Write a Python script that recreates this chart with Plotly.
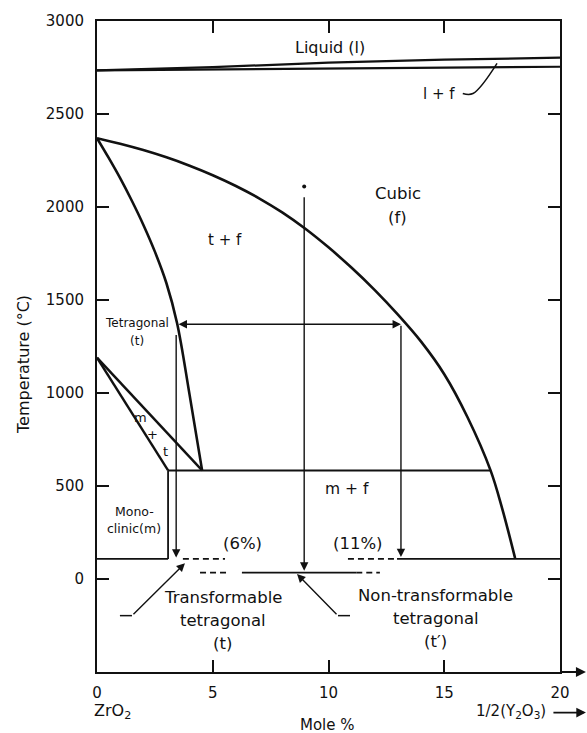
import plotly.graph_objects as go

FONT = "DejaVu Sans"
INK = "#111111"

# ---------------- data (composition in mol %, temperature in deg C) ----------------
liq_x = [0, 5, 10, 15, 20]
liquidus_T = [2735, 2752, 2776, 2792, 2803]
solidus_T = [2735, 2740, 2745, 2750, 2754]

t_bound_x = [0, 0.5, 1.0, 1.5, 2.0, 2.5, 3.0, 3.46, 4.0, 4.54]
t_bound_T = [2370, 2265, 2155, 2035, 1905, 1760, 1590, 1375, 990, 584]

f_bound_x = [0, 1, 2, 3, 4, 5, 6, 7, 8, 9, 10, 11, 12, 13, 14, 15, 16, 17.0, 17.5, 18.06]
f_bound_T = [2370, 2340, 2306, 2267, 2222, 2171, 2113, 2047, 1971, 1883, 1783, 1673, 1553,
             1421, 1276, 1101, 871, 584, 380, 112]

mt_upper_x = [0, 4.54]
mt_upper_T = [1190, 584]
mt_lower_x = [0, 3.07]
mt_lower_T = [1190, 584]

eutectoid_x = [3.07, 17.0]
eutectoid_T = [584, 584]

mono_x = [3.07, 3.07]
mono_T = [584, 108]

base_T = 108
base_solid_segments = [[0, 3.07], [12.96, 20]]
base_dashed_segments = [[3.71, 5.53], [10.84, 12.96]]

low_T = 34
low_solid_segments = [[6.26, 11.2]]
low_dashed_segments = [[4.45, 5.66], [11.2, 12.22]]

marker_dot_x = [8.95]
marker_dot_T = [2110]

# arrows: (tail x, tail T, tip x, tip T)
vertical_arrows = [(3.42, 1320, 3.42, 115), (8.95, 2060, 8.95, 45), (13.13, 1370, 13.13, 118)]
double_arrow = (3.46, 1370, 13.13, 1370)

# leader lines
lf_leader_x = [15.8, 16.24, 17.28]
lf_leader_T = [2610, 2610, 2772]
trans_tail_x = [0.99, 1.51]
trans_tail_T = [-197, -197]
trans_tip = (3.8, 85)
nontrans_tail_x = [10.93, 10.41]
nontrans_tail_T = [-197, -197]
nontrans_tip = (8.64, 27)

# text labels: (text, x, T, size)
labels = [
    ("Liquid (l)", 10.06, 2856, 16),
    ("l + f", 14.77, 2610, 15),
    ("t + f", 5.53, 1822, 15),
    ("Cubic", 13.0, 2075, 16.5),
    ("(f)", 13.0, 1945, 16.5),
    ("Tetragonal", 1.73, 1375, 12),
    ("(t)", 1.73, 1279, 12),
    ("m", 1.9, 868, 13),
    ("+", 2.38, 778, 13),
    ("t", 2.98, 687, 13),
    ("m + f", 10.8, 485, 15.5),
    ("Mono-", 1.6, 362, 12.5),
    ("clinic(m)", 1.6, 272, 12.5),
    ("(6%)", 6.3, 192, 16.5),
    ("(11%)", 11.27, 192, 16.5),
    ("Transformable", 5.44, -101, 16.5),
    ("tetragonal", 5.44, -224, 16.5),
    ("(t)", 5.44, -346, 16.5),
    ("Non-transformable", 14.64, -91, 16.5),
    ("tetragonal", 14.64, -213, 16.5),
    ("(t\u2032)", 14.64, -336, 16.5),
]

x_ticks = [0, 5, 10, 15, 20]
y_ticks = [0, 500, 1000, 1500, 2000, 2500, 3000]

# ---------------- figure ----------------
fig = go.Figure()


def add_line(xs, ys, width=2.4, dash="solid", shape="linear"):
    fig.add_trace(go.Scatter(x=xs, y=ys, mode="lines",
                             line=dict(color=INK, width=width, dash=dash, shape=shape, smoothing=1.0),
                             hoverinfo="skip", showlegend=False))


add_line(liq_x, liquidus_T, 2.2, shape="spline")
add_line(liq_x, solidus_T, 2.2)
add_line(t_bound_x, t_bound_T, 2.6, shape="spline")
add_line(f_bound_x, f_bound_T, 2.6, shape="spline")
add_line(mt_upper_x, mt_upper_T, 2.4)
add_line(mt_lower_x, mt_lower_T, 2.4)
add_line(eutectoid_x, eutectoid_T, 2.0)
add_line(mono_x, mono_T, 1.8)
for seg in base_solid_segments:
    add_line(seg, [base_T, base_T], 1.8)
for seg in base_dashed_segments:
    add_line(seg, [base_T, base_T], 1.8, dash="6px,4px")
for seg in low_solid_segments:
    add_line(seg, [low_T, low_T], 1.8)
for seg in low_dashed_segments:
    add_line(seg, [low_T, low_T], 1.8, dash="6px,4px")
add_line(lf_leader_x, lf_leader_T, 1.5, shape="spline")
add_line(trans_tail_x, trans_tail_T, 1.5)
add_line(nontrans_tail_x, nontrans_tail_T, 1.5)

fig.add_trace(go.Scatter(x=marker_dot_x, y=marker_dot_T, mode="markers",
                         marker=dict(color=INK, size=4), hoverinfo="skip", showlegend=False))

annotations = []


def arrow(x0, y0, x1, y1, side="end"):
    annotations.append(dict(x=x1, y=y1, ax=x0, ay=y0, xref="x", yref="y", axref="x", ayref="y",
                            text="", showarrow=True, arrowhead=2, arrowsize=1.2, arrowwidth=1.4,
                            arrowcolor=INK, arrowside=side, standoff=0, startstandoff=0))


for a in vertical_arrows:
    arrow(*a)
arrow(*double_arrow, side="end+start")
arrow(trans_tail_x[-1], trans_tail_T[-1], *trans_tip)
arrow(nontrans_tail_x[-1], nontrans_tail_T[-1], *nontrans_tip)

for text, x, y, size in labels:
    annotations.append(dict(x=x, y=y, xref="x", yref="y", text=text, showarrow=False,
                            font=dict(family=FONT, size=size, color=INK),
                            xanchor="center", yanchor="middle"))

# axis titles and end labels
annotations.append(dict(x=-0.16, y=0.473, xref="paper", yref="paper", text="Temperature (\u00b0C)",
                        textangle=-90, showarrow=False, font=dict(family=FONT, size=16, color=INK),
                        xanchor="center", yanchor="middle"))
annotations.append(dict(x=0.497, y=-0.0807, xref="paper", yref="paper", text="Mole %",
                        showarrow=False, font=dict(family=FONT, size=15, color=INK),
                        xanchor="center", yanchor="middle"))
annotations.append(dict(x=-0.011, y=-0.060, xref="paper", yref="paper", text="ZrO<sub>2</sub>",
                        showarrow=False, font=dict(family=FONT, size=16, color=INK),
                        xanchor="left", yanchor="middle"))
annotations.append(dict(x=0.974, y=-0.060, xref="paper", yref="paper",
                        text="1/2(Y<sub>2</sub>O<sub>3</sub>)",
                        showarrow=False, font=dict(family=FONT, size=15, color=INK),
                        xanchor="right", yanchor="middle"))
# arrow after the end label and axis extension arrow
annotations.append(dict(x=1.056, y=-0.0624, xref="paper", yref="paper", ax=-34, ay=0,
                        text="", showarrow=True, arrowhead=2, arrowsize=1.2, arrowwidth=1.6,
                        arrowcolor=INK, standoff=0))
annotations.append(dict(x=1.056, y=0, xref="paper", yref="paper", ax=-27, ay=0,
                        text="", showarrow=True, arrowhead=2, arrowsize=1.0, arrowwidth=2,
                        arrowcolor=INK, standoff=0))

axis_common = dict(showgrid=False, zeroline=False, showline=True, linewidth=2, linecolor=INK,
                   mirror="ticks", ticks="inside", ticklen=12, tickwidth=1.6, tickcolor=INK,
                   tickfont=dict(family=FONT, size=15, color=INK))

fig.update_layout(
    width=587, height=733,
    margin=dict(l=97, r=27, t=15, b=61),
    paper_bgcolor="white", plot_bgcolor="white",
    xaxis=dict(range=[0, 20], tickvals=x_ticks, ticklabelstandoff=6, **axis_common),
    yaxis=dict(range=[-500, 3000], tickvals=y_ticks, ticklabelstandoff=8, **axis_common),
    annotations=annotations,
    showlegend=False,
)

fig.write_html("out.html")
